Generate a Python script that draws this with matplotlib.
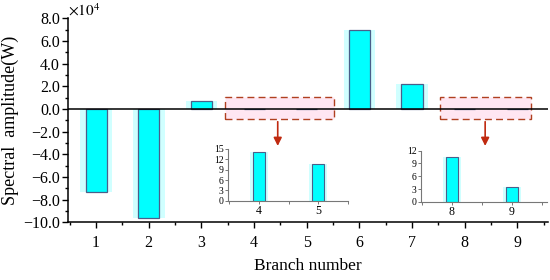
import matplotlib.pyplot as plt
from matplotlib.patches import Rectangle
from matplotlib.ticker import MultipleLocator

branches = [1, 2, 3, 4, 5, 6, 7, 8, 9]
amplitude = [-7.3e4, -9.6e4, 0.75e4, 14.2, 10.7, 7.0e4, 2.25e4, 10.4, 3.4]

inset1_branches = [4, 5]
inset1_amp = [14.2, 10.7]
inset2_branches = [8, 9]
inset2_amp = [10.4, 3.4]

plt.rcParams['font.family'] = ['Liberation Serif', 'DejaVu Serif']
plt.rcParams['mathtext.fontset'] = 'stix'

bar_face = '#00ffff'
bar_edge = '#4a5f8a'
halo = '#d0ffff'

fig = plt.figure(figsize=(5.5, 2.8), dpi=100)
ax = fig.add_axes([0.124, 0.206, 0.872, 0.728])

amp_scaled = [a / 1e4 for a in amplitude]
ax.bar(branches, amp_scaled, width=0.6, color=halo, zorder=1)
ax.bar(branches, amp_scaled, width=0.4, color=bar_face, edgecolor=bar_edge,
       linewidth=0.9, zorder=2)
ax.axhline(0, color='black', lw=1.1, zorder=3)

ax.set_xlim(0.47, 9.58)
ax.set_ylim(-10, 8)
ax.set_xticks(branches)
ax.xaxis.set_minor_locator(MultipleLocator(0.5))
ax.yaxis.set_major_locator(MultipleLocator(2))
ax.yaxis.set_minor_locator(MultipleLocator(1))
ax.set_yticklabels([f'{v:.1f}'.replace('-', '\u2212') for v in ax.get_yticks()])
for s in ['top', 'right']:
    ax.spines[s].set_visible(False)
ax.spines['left'].set_linewidth(1.1)
ax.spines['bottom'].set_linewidth(1.1)
ax.tick_params(which='major', direction='out', length=4, width=1, labelsize=11.5)
ax.tick_params(which='minor', direction='out', length=2.5, width=1)
ax.tick_params(axis='x', pad=5)
ax.tick_params(axis='y', pad=2)
ax.set_xlabel('Branch number', fontsize=12.5, labelpad=5)
ax.set_ylabel('Spectral  amplitude(W)', fontsize=13, labelpad=3)
ax.text(0.0, 1.0, r'$\times10^4$', transform=ax.transAxes, fontsize=11,
        ha='left', va='bottom')

# dashed zoom boxes and arrows
for x0, x1, xa in [(3.45, 5.52, 4.45), (7.53, 9.27, 8.39)]:
    ax.add_patch(Rectangle((x0, -0.87), x1 - x0, 1.95, facecolor='#ffe6f2',
                           edgecolor='#b04020', linestyle=(0, (5, 3)),
                           linewidth=1.0, zorder=0))
    ax.annotate('', xy=(xa, -3.5), xytext=(xa, -0.87),
                arrowprops=dict(arrowstyle='-|>', color='#c02a10', lw=1.2,
                                mutation_scale=12), zorder=4)

def inset(rect, xs, ys, xlim, ymax):
    a = fig.add_axes(rect)
    a.bar(xs, ys, width=0.3, color=halo, zorder=1)
    a.bar(xs, ys, width=0.2, color=bar_face, edgecolor=bar_edge,
          linewidth=0.8, zorder=2)
    a.set_xlim(*xlim)
    a.set_ylim(0, ymax)
    a.set_xticks(xs)
    a.xaxis.set_minor_locator(MultipleLocator(0.5))
    a.yaxis.set_major_locator(MultipleLocator(3))
    for s in ['top', 'right']:
        a.spines[s].set_visible(False)
    a.spines['left'].set_color('#777777')
    a.spines['bottom'].set_color('#777777')
    a.tick_params(which='both', direction='out', length=2, width=0.7,
                  labelsize=7, pad=1, color='#777777')
    a.tick_params(axis='x', labelsize=8.5)
    a.patch.set_alpha(0)
    return a

inset([0.4145, 0.283, 0.218, 0.185], inset1_branches, inset1_amp, (3.48, 5.5), 15)
inset([0.765, 0.279, 0.229, 0.183], inset2_branches, inset2_amp, (7.48, 9.58), 12)

fig.savefig('out.png', dpi=100)
